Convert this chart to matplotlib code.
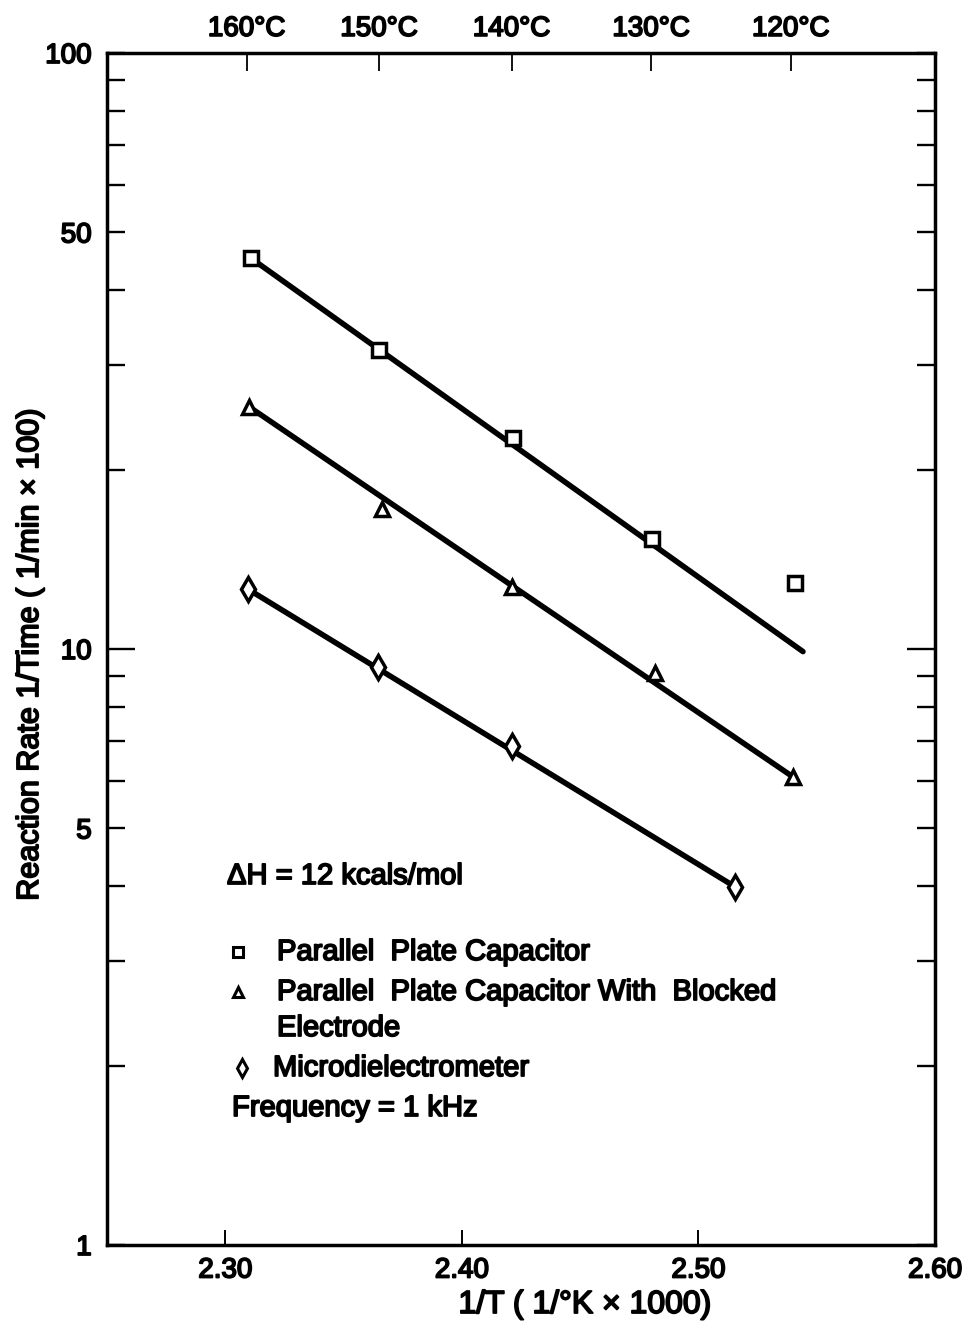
import matplotlib
matplotlib.use("Agg")
import matplotlib.pyplot as plt
import matplotlib.patheffects as pe
from matplotlib.ticker import FixedLocator, FixedFormatter, NullFormatter

# ---------------- data ----------------
sq_x = [2.3107, 2.3650, 2.4215, 2.4804, 2.5408]
sq_y = [45.3, 31.7, 22.6, 15.3, 12.9]
tri_x = [2.3100, 2.3662, 2.4211, 2.4816, 2.5399]
tri_y = [25.5, 17.2, 12.7, 9.1, 6.1]
dia_x = [2.3096, 2.3646, 2.4211, 2.5155]
dia_y = [12.6, 9.33, 6.87, 3.99]

# fitted straight lines (end points)
sq_fit_x = [2.3107, 2.5442]
sq_fit_y = [45.3, 9.9]
tri_fit_x = [2.3100, 2.5400]
tri_fit_y = [25.5, 6.1]
dia_fit_x = [2.3096, 2.5155]
dia_fit_y = [12.6, 3.99]

x_ticks = [2.30, 2.40, 2.50, 2.60]
x_tick_labels = ["2.30", "2.40", "2.50", "2.60"]
top_ticks = [2.309, 2.365, 2.421, 2.480, 2.539]
top_labels = ["160°C", "150°C", "140°C", "130°C", "120°C"]
y_minor = [1, 2, 3, 4, 5, 6, 7, 8, 9, 20, 30, 40, 50, 60, 70, 80, 90, 100]
y_minor_labels = ["1", "", "", "", "5", "", "", "", "", "", "", "", "50", "", "", "", "", "100"]
y_major = [10]
y_major_labels = ["10"]

FONT = ["Liberation Sans", "DejaVu Sans"]
plt.rcParams["font.family"] = FONT
BOLD = [pe.withStroke(linewidth=1.3, foreground="black")]

W, H = 967, 1330
fig = plt.figure(figsize=(W / 100, H / 100), dpi=100)
L, R, T, B = 107, 935, 53, 1245
ax = fig.add_axes([L / W, 1 - B / H, (R - L) / W, (B - T) / H])

ax.set_yscale("log")
ax.set_xlim(2.25, 2.60)
ax.set_ylim(1, 100)

line_kw = dict(color="black", lw=4.0, solid_capstyle="round", zorder=2)
ax.plot(sq_fit_x, sq_fit_y, **line_kw)
ax.plot(tri_fit_x, tri_fit_y, **line_kw)
ax.plot(dia_fit_x, dia_fit_y, **line_kw)

mk = dict(ls="none", mfc="white", mec="black", mew=2.5, zorder=3)
ax.plot(sq_x, sq_y, marker="s", ms=10, **mk)
ax.plot(tri_x, tri_y, marker="^", ms=10.5, **mk)
ax.plot(dia_x, dia_y, marker="d", ms=12.5, **mk)

for s in ax.spines.values():
    s.set_linewidth(2.5)

# y ticks
ax.yaxis.set_major_locator(FixedLocator(y_major))
ax.yaxis.set_major_formatter(FixedFormatter(y_major_labels))
ax.yaxis.set_minor_locator(FixedLocator(y_minor))
ax.yaxis.set_minor_formatter(FixedFormatter(y_minor_labels))
ax.tick_params(axis="y", which="major", direction="in", length=20, width=1.7,
               left=True, right=True, labelsize=20, pad=11)
ax.tick_params(axis="y", which="minor", direction="in", length=13, width=1.7,
               left=True, right=True, labelsize=20, pad=11)

# x ticks
ax.set_xticks(x_ticks)
ax.set_xticklabels(x_tick_labels)
ax.tick_params(axis="x", which="major", direction="in", length=11, width=1.4,
               top=False, bottom=True, labelsize=20, pad=9)
ax.xaxis.set_minor_formatter(NullFormatter())
ax.tick_params(axis="x", which="minor", bottom=False, top=False)

for lab in ax.get_xticklabels() + ax.get_yticklabels(which="both"):
    lab.set_path_effects(BOLD)

# top temperature axis
axt = ax.twiny()
axt.set_xlim(ax.get_xlim())
axt.set_xticks(top_ticks)
axt.set_xticklabels(top_labels)
axt.tick_params(axis="x", direction="in", length=13, width=1.3, labelsize=20, pad=8)
for lab in axt.get_xticklabels():
    lab.set_path_effects(BOLD)
for s in axt.spines.values():
    s.set_visible(False)

# axis labels
fig.text(585 / W, 1 - 1305 / H, "1/T ( 1/°K × 1000)", ha="center", va="center",
         fontsize=23, path_effects=BOLD)
fig.text(30 / W, 1 - 655 / H, "Reaction Rate 1/Time ( 1/min × 100)", ha="center",
         va="center", rotation=90, fontsize=22, path_effects=BOLD)

# annotations / key
txt = dict(fontsize=21, va="center", ha="left", path_effects=BOLD)
fig.text(227 / W, 1 - 876 / H, "ΔH = 12 kcals/mol", **txt)
fig.text(277 / W, 1 - 952 / H, "Parallel  Plate Capacitor", **txt)
fig.text(277 / W, 1 - 992 / H, "Parallel  Plate Capacitor With  Blocked", **txt)
fig.text(277 / W, 1 - 1028 / H, "Electrode", **txt)
fig.text(273 / W, 1 - 1068 / H, "Microdielectrometer", **txt)
fig.text(232 / W, 1 - 1108 / H, "Frequency = 1 kHz", **txt)

key = dict(ls="none", mfc="white", mec="black", mew=2.2, transform=fig.transFigure,
           clip_on=False)
fig.lines.append(plt.Line2D([238 / W], [1 - 952 / H], marker="s", ms=7, **key))
fig.lines.append(plt.Line2D([238 / W], [1 - 992 / H], marker="^", ms=7.5, **key))
fig.lines.append(plt.Line2D([242 / W], [1 - 1068 / H], marker="d", ms=9, **key))

fig.savefig("out.png", dpi=100)
